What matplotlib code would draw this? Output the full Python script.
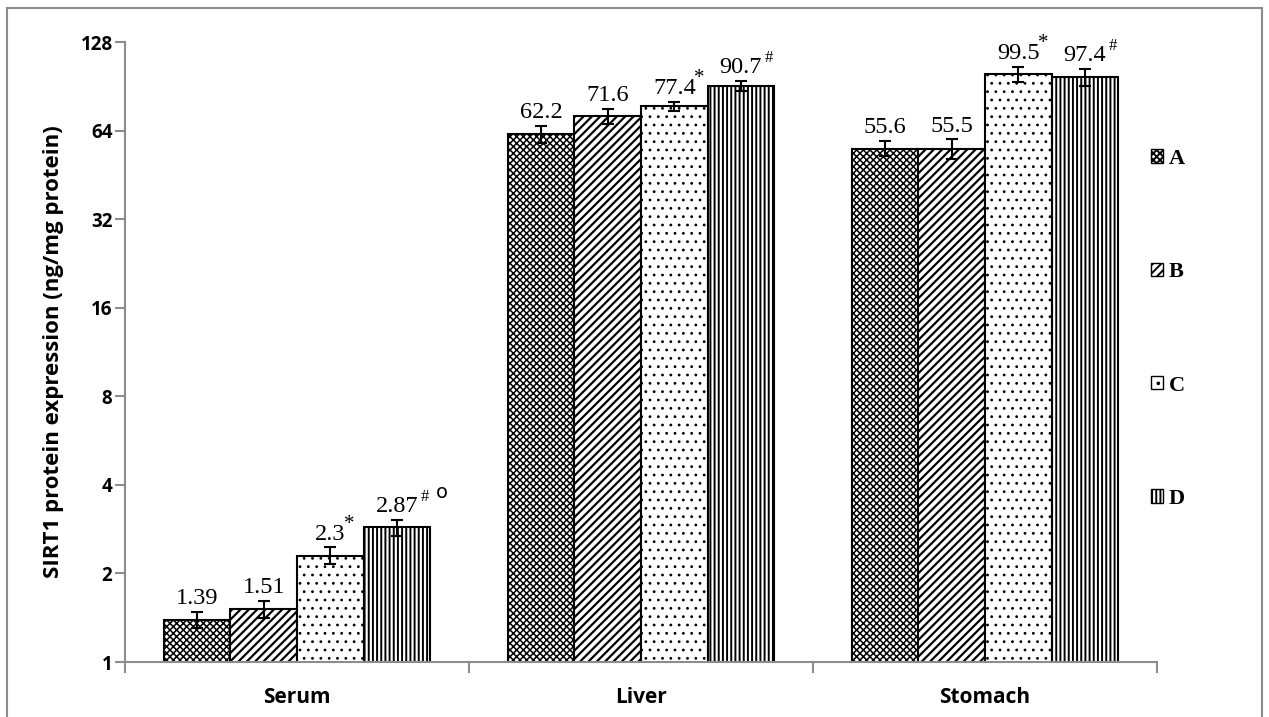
import numpy as np
import matplotlib
matplotlib.use("Agg")
import matplotlib.pyplot as plt
from matplotlib.patches import Rectangle
from matplotlib.ticker import FixedLocator, FixedFormatter, NullLocator

# data
tissues = ["Serum", "Liver", "Stomach"]
groups = ["A", "B", "C", "D"]
vals_A = [1.39, 62.2, 55.6]
vals_B = [1.51, 71.6, 55.5]
vals_C = [2.3, 77.4, 99.5]
vals_D = [2.87, 90.7, 97.4]
err_A = [0.09, 4.1, 3.3]
err_B = [0.10, 4.4, 4.2]
err_C = [0.15, 2.9, 5.9]
err_D = [0.18, 3.6, 6.5]
sup_A = ["", "", ""]
sup_B = ["", "", ""]
sup_C = ["*", "*", "*"]
sup_D = ["#", "#", "#"]
ring_D = [True, False, False]
yticks = [1, 2, 4, 8, 16, 32, 64, 128]

values = [vals_A, vals_B, vals_C, vals_D]
errors = [err_A, err_B, err_C, err_D]
sups = [sup_A, sup_B, sup_C, sup_D]
hatches = ["xxxxx", "////", "..", "||||"]
hatch_lw = [1.1, 1.6, 0.8, 1.4]

fig = plt.figure(figsize=(12.69, 7.17), dpi=100)
ax = fig.add_axes([125/1269, 1-662/717, (1157-125)/1269, (662-42)/717])

# grey frame around the whole picture
fig.patches.append(Rectangle((7/1269, -0.02), (1262-7)/1269, 1.02-8/717, transform=fig.transFigure,
                             fill=False, edgecolor="#8c8c8c", linewidth=1.5))

x = np.arange(len(tissues))
w = 0.775/4
serif = "Liberation Serif"
sans = "Open Sans"

for i in range(4):
    pos = x + (i-1.5)*w
    plt.rcParams["hatch.linewidth"] = hatch_lw[i]
    bars = ax.bar(pos, values[i], w, facecolor="white", edgecolor="black", linewidth=1.5,
                  hatch=hatches[i], label=groups[i], zorder=2)
    for b in bars:
        if hasattr(b, "set_hatch_linewidth"):
            b.set_hatch_linewidth(hatch_lw[i])
    ax.errorbar(pos, values[i], yerr=errors[i], fmt="none", ecolor="black", elinewidth=1.5,
                capsize=4.5, capthick=1.5, zorder=3)
    for j in range(3):
        top = values[i][j] + errors[i][j]
        t = ax.annotate(str(values[i][j]), xy=(pos[j], top), xytext=(0, 2), textcoords="offset points",
                        ha="center", va="bottom", fontsize=17.5, family=serif)
        mark = sups[i][j]
        if mark:
            # star sits a bit into the number, hash just after it
            dx = -1.5 if mark == "*" else 2
            ax.annotate(mark, xy=(1, 0.77), xycoords=t, xytext=(dx, 0), textcoords="offset points",
                        ha="left", va="baseline", fontsize=15 if mark == "*" else 12, family=serif)
            if i == 3 and ring_D[j]:
                ax.annotate("o", xy=(1, 0.77), xycoords=t, xytext=(13, 1.5), textcoords="offset points",
                            ha="left", va="baseline", fontsize=14, family="DejaVu Sans")

ax.set_yscale("log", base=2)
ax.set_ylim(1, 128)
ax.set_xlim(-0.5, 2.5)
ax.yaxis.set_major_locator(FixedLocator(yticks))
ax.yaxis.set_major_formatter(FixedFormatter([str(v) for v in yticks]))
ax.yaxis.set_minor_locator(NullLocator())

# category separators as ticks, names centred under each group
ax.set_xticks([-0.5, 0.5, 1.5, 2.5])
ax.set_xticklabels([])
ax.set_xticks(x, minor=True)
ax.set_xticklabels(tissues, minor=True)
ax.tick_params(axis="x", which="minor", length=0, pad=18, labelsize=15)
ax.tick_params(axis="x", which="major", length=8, color="#8c8c8c", width=1.5)
ax.tick_params(axis="y", length=7, color="#8c8c8c", width=1.5, pad=2, labelsize=13.5)
for lab in ax.get_xticklabels(minor=True) + ax.get_yticklabels():
    lab.set_fontweight("bold")
    lab.set_family(sans)

for side in ["top", "right"]:
    ax.spines[side].set_visible(False)
for side in ["left", "bottom"]:
    ax.spines[side].set_color("#8c8c8c")
    ax.spines[side].set_linewidth(1.5)

ax.set_ylabel("SIRT1 protein expression (ng/mg protein)", fontsize=16, fontweight="bold", family=sans)
ax.yaxis.set_label_coords((64-125)/1032, 0.5)

leg = ax.legend(loc="upper left", bbox_to_anchor=(1142/1269, 1-140/717), bbox_transform=fig.transFigure,
                frameon=False, handlelength=0.55, handleheight=0.55, handletextpad=0.25,
                labelspacing=4.2, prop={"family": serif, "weight": "bold", "size": 16}, borderaxespad=0)
for h in leg.legend_handles:
    h.set_linewidth(1.0)

fig.savefig("out.png", dpi=100)
